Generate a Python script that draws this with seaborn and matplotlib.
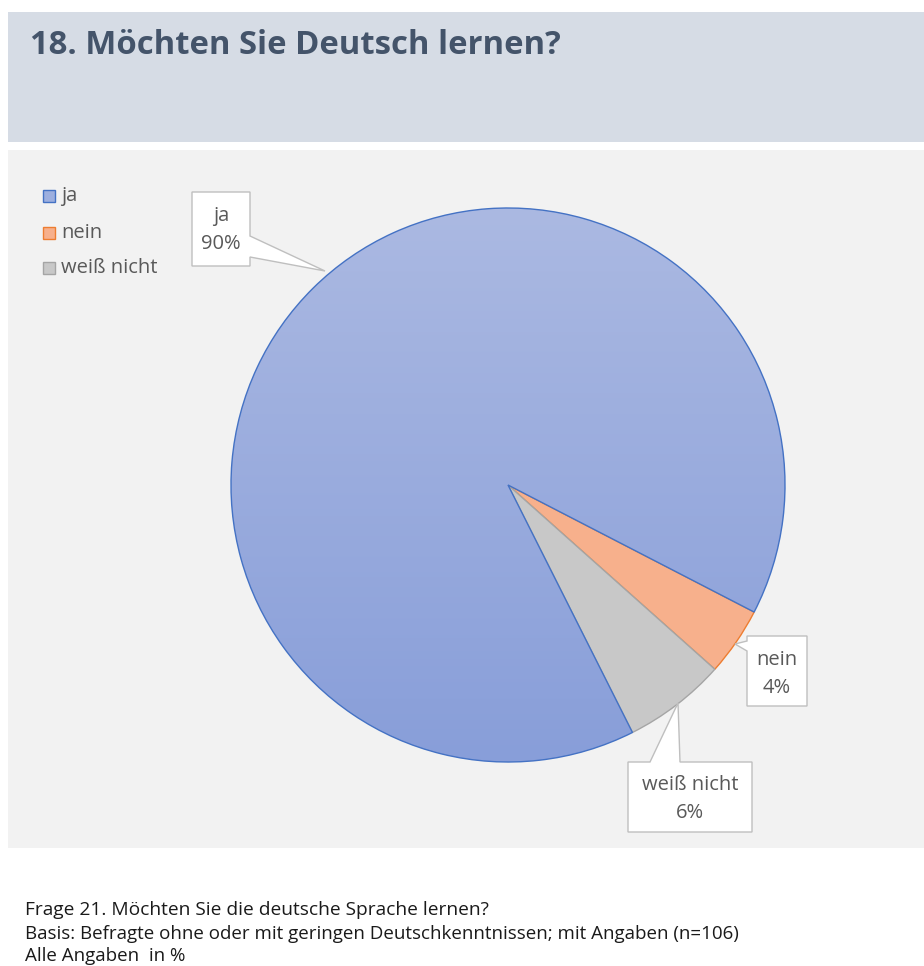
import numpy as np
import matplotlib
matplotlib.use("Agg")
import matplotlib.pyplot as plt
from matplotlib.patches import Rectangle, Polygon
import seaborn as sns

# ---- data ----
categories = ["ja", "nein", "weiß nicht"]
shares = [90, 4, 6]
label_texts = ["ja\n90%", "nein\n4%", "weiß nicht\n6%"]

title = "18. Möchten Sie Deutsch lernen?"
notes = [
    "Frage 21. Möchten Sie die deutsche Sprache lernen?",
    "Basis: Befragte ohne oder mit geringen Deutschkenntnissen; mit Angaben (n=106)",
    "Alle Angaben  in %",
]

# ---- style ----
sns.set_theme(style="white")
plt.rcParams["font.family"] = ["Open Sans", "DejaVu Sans"]

fill_colors = ["#9DAFDF", "#F7B08C", "#C8C8C8"]
edge_colors = ["#4472C4", "#ED7D31", "#A5A5A5"]
grad_top, grad_bottom = "#ABB9E2", "#889ED9"
text_grey = "#595959"

W, H = 924, 966
fig = plt.figure(figsize=(W / 100, H / 100), dpi=100)
fig.patch.set_facecolor("white")

# background layer in pixel coordinates
bg = fig.add_axes([0, 0, 1, 1], zorder=0)
bg.set_xlim(0, W)
bg.set_ylim(H, 0)
bg.axis("off")
bg.add_patch(Rectangle((8, 12), W - 8, 130, facecolor="#D6DCE5", edgecolor="none"))
bg.add_patch(Rectangle((8, 150), W - 8, 698, facecolor="#F2F2F2", edgecolor="none"))

renderer = fig.canvas.get_renderer()


def fitted_text(ax, x, y, s, width_px, **kw):
    t = ax.text(x, y, s, **kw)
    w = t.get_window_extent(renderer).width
    t.set_fontsize(t.get_fontsize() * width_px / w)
    return t


fitted_text(bg, 30, 54, title, 528, fontsize=22, fontweight="bold",
            color="#44546A", va="baseline", ha="left")
fitted_text(bg, 25, 915, notes[0], 460, fontsize=12, color="#1a1a1a",
            va="baseline", ha="left")
note2 = fitted_text(bg, 25, 939, notes[1], 713, fontsize=12, color="#1a1a1a",
                    va="baseline", ha="left")
bg.text(25, 961, notes[2], fontsize=note2.get_fontsize(),
        color="#1a1a1a", va="baseline", ha="left")

# legend
leg_y = [196, 233, 268]
for cat, fc, ec, y in zip(categories, fill_colors, edge_colors, leg_y):
    bg.add_patch(Rectangle((43, y - 6), 12, 12, facecolor=fc, edgecolor=ec, lw=1))
    bg.text(61, y, cat, fontsize=14.5, color=text_grey, va="center", ha="left")

# ---- pie ----
cx, cy, R = 508, 485, 277
half = 300
pie_ax = fig.add_axes([(cx - half) / W, (H - cy - half) / H, 2 * half / W, 2 * half / H],
                      zorder=1)
pie_ax.set_xlim(-half, half)
pie_ax.set_ylim(-half, half)
pie_ax.set_aspect("equal")
pie_ax.axis("off")

start = -63.3
wedges, _ = pie_ax.pie(shares, colors=fill_colors, startangle=start, counterclock=False,
                       radius=R, center=(0, 0),
                       wedgeprops=dict(linewidth=1.0))
for w, ec in zip(wedges, edge_colors):
    w.set_edgecolor(ec)

# vertical gradient for the "ja" slice
cmap = matplotlib.colors.LinearSegmentedColormap.from_list("ja", [grad_bottom, grad_top])
grad = np.linspace(0, 1, 256).reshape(-1, 1)
img = pie_ax.imshow(grad, cmap=cmap, extent=(-R, R, -R, R), origin="lower",
                    aspect="auto", zorder=wedges[0].get_zorder() + 0.1)
img.set_clip_path(wedges[0])
wedges[0].set_zorder(wedges[0].get_zorder() + 0.2)
wedges[0].set_facecolor("none")
pie_ax.set_xlim(-half, half)
pie_ax.set_ylim(-half, half)

# ---- callouts ----
top = fig.add_axes([0, 0, 1, 1], zorder=2)
top.set_xlim(0, W)
top.set_ylim(H, 0)
top.axis("off")
top.patch.set_alpha(0)

callouts = [
    dict(poly=[(192, 192), (250, 192), (250, 236), (325, 271), (250, 257),
               (250, 266), (192, 266)],
         tx=221, ty=230),
    dict(poly=[(747, 636), (807, 636), (807, 706), (747, 706), (747, 651),
               (735, 644), (747, 641)],
         tx=777, ty=674),
    dict(poly=[(628, 762), (650, 762), (678, 703), (680, 762), (752, 762),
               (752, 832), (628, 832)],
         tx=690, ty=799),
]
for c, txt in zip(callouts, label_texts):
    top.add_patch(Polygon(c["poly"], closed=True, facecolor="white",
                          edgecolor="#BFBFBF", lw=1))
    top.text(c["tx"], c["ty"], txt, fontsize=14.5, color=text_grey,
             ha="center", va="center", linespacing=1.55)

fig.savefig("out.png", dpi=100)
